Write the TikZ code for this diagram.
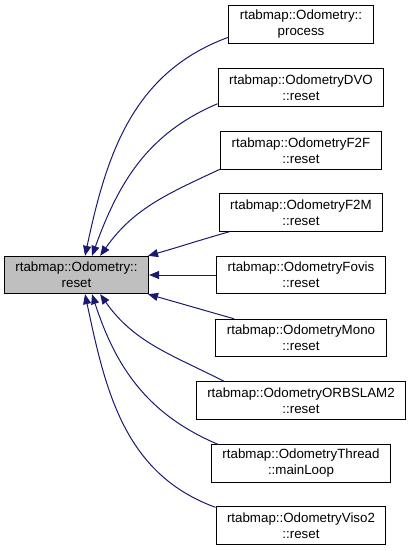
\documentclass[tikz,border=0pt]{standalone}
\usepackage{fontspec}
\setmainfont{Liberation Sans}
\usetikzlibrary{arrows.meta}
\definecolor{edgeblue}{HTML}{191970}
\definecolor{rootgray}{HTML}{BFBFBF}
\tikzset{
  fn/.style={draw=black, fill=white, line width=0.75pt, align=center,
    font=\fontsize{10}{12}\selectfont, inner xsep=8.25pt, inner ysep=2pt,
    minimum height=28pt},
  rootfn/.style={fn, fill=rootgray},
  call/.style={-{Triangle[length=7.5pt,width=6pt]}, line width=0.75pt, color=edgeblue},
}
\begin{document}
\begin{tikzpicture}[x=0.75pt,y=0.75pt]
  \useasboundingbox (0,0) rectangle (411,-551);
  % the function whose callers are shown
  \node[rootfn] (reset) at (76.5,-275) {rtabmap::Odometry::\\reset};
  % callers
  \foreach \n/\t/\y in {process/{rtabmap::Odometry::\\process}/24.5,
      dvo/{rtabmap::OdometryDVO\\::reset}/87.5,
      f2f/{rtabmap::OdometryF2F\\::reset}/150.5,
      f2m/{rtabmap::OdometryF2M\\::reset}/212.5,
      fovis/{rtabmap::OdometryFovis\\::reset}/275,
      mono/{rtabmap::OdometryMono\\::reset}/338,
      orbslam/{rtabmap::OdometryORBSLAM2\\::reset}/400.5,
      thread/{rtabmap::OdometryThread\\::mainLoop}/463.5,
      viso/{rtabmap::OdometryViso2\\::reset}/525.5} {
    \node[fn] (\n) at (301,-\y) {\t};
  }
  % calls
  \foreach \n/\a/\o/\b/\i in {process/190/200/66/78, dvo/191/203/51/70,
      f2f/193/205/39/55, f2m/195/196/15/16, mono/164/164/345/344,
      orbslam/166/153/321/305, thread/167/157/309/288, viso/168/160/294/282} {
    \draw[call] (\n.\a) to[out=\o,in=\i] (reset.\b);
  }
  \draw[call] (fovis) -- (reset);
\end{tikzpicture}
\end{document}
